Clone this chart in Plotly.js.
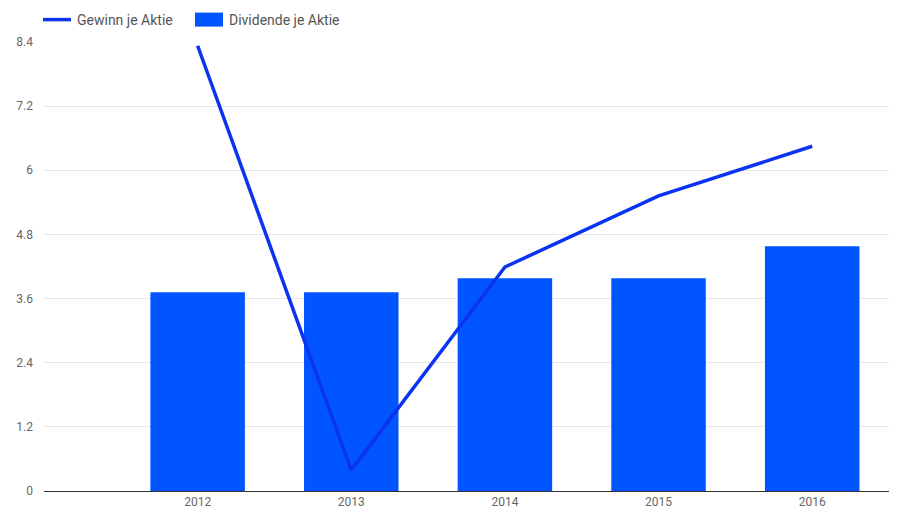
<!DOCTYPE html>
<html>
<head>
<meta charset="utf-8">
<script src="https://cdn.plot.ly/plotly-3.0.1.min.js"></script>
<style>html,body{margin:0;padding:0;background:#fff;}#chart{width:919px;height:522px;}</style>
</head>
<body>
<div id="chart"></div>
<script>
const years = ['2012', '2013', '2014', '2015', '2016'];
const gewinn = [8.33, 0.39, 4.19, 5.52, 6.45];
const dividende = [3.72, 3.72, 3.98, 3.98, 4.58];
const yTicks = [0, 1.2, 2.4, 3.6, 4.8, 6, 7.2, 8.4];
const yTickText = ['0', '1.2', '2.4', '3.6', '4.8', '6', '7.2', '8.4'];

const traces = [
  {
    type: 'scatter', mode: 'lines', name: 'Gewinn je Aktie',
    x: years, y: gewinn,
    line: {color: '#0a33f2', width: 3.5}
  },
  {
    type: 'bar', name: 'Dividende je Aktie',
    x: years, y: dividende,
    width: 0.615,
    marker: {color: '#0055ff'}
  }
];

const layout = {
  width: 919, height: 522,
  margin: {l: 44, r: 30, t: 42, b: 31},
  paper_bgcolor: '#fff', plot_bgcolor: '#fff',
  font: {family: 'Roboto, Arial, sans-serif', color: '#666', size: 12},
  showlegend: true,
  legend: {
    orientation: 'h', x: 37 / 919, xref: 'container', xanchor: 'left',
    y: 1 - 20 / 522, yref: 'container', yanchor: 'middle',
    font: {size: 14, color: '#555'}, itemwidth: 30, traceorder: 'normal',
    entrywidth: 107, entrywidthmode: 'pixels'
  },
  xaxis: {
    type: 'category', categoryorder: 'array', categoryarray: years,
    range: [-1, 4.5], showgrid: false, zeroline: false,
    showline: true, linecolor: '#333', linewidth: 1,
    ticks: '', tickfont: {size: 12, color: '#666'}
  },
  yaxis: {
    range: [0, 8.4], tickvals: yTicks, ticktext: yTickText,
    showgrid: true, gridcolor: '#e6e6e6', gridwidth: 1,
    zeroline: false, showline: false, ticks: '',
    ticklabelstandoff: 10,
    tickfont: {size: 12, color: '#666'}
  },
  bargap: 0.385
};

function fixLegend() {
  const root = document.getElementById('chart');
  const items = root.querySelectorAll('.legend .traces');
  items.forEach(function (tr, i) {
    if (i === 1) {
      tr.querySelectorAll('.legendpoints path').forEach(function (p) {
        p.setAttribute('d', 'M14,7H-14V-7H14Z');
      });
    } else {
      tr.querySelectorAll('.legendlines path').forEach(function (p) {
        p.setAttribute('d', 'M6,0h28');
      });
    }
  });
}

const gd = document.getElementById('chart');
Plotly.newPlot(gd, traces, layout, {displayModeBar: false, staticPlot: true}).then(function () {
  fixLegend();
  setTimeout(fixLegend, 50);
  setTimeout(fixLegend, 300);
});
gd.on && gd.on('plotly_afterplot', fixLegend);
</script>
</body>
</html>
